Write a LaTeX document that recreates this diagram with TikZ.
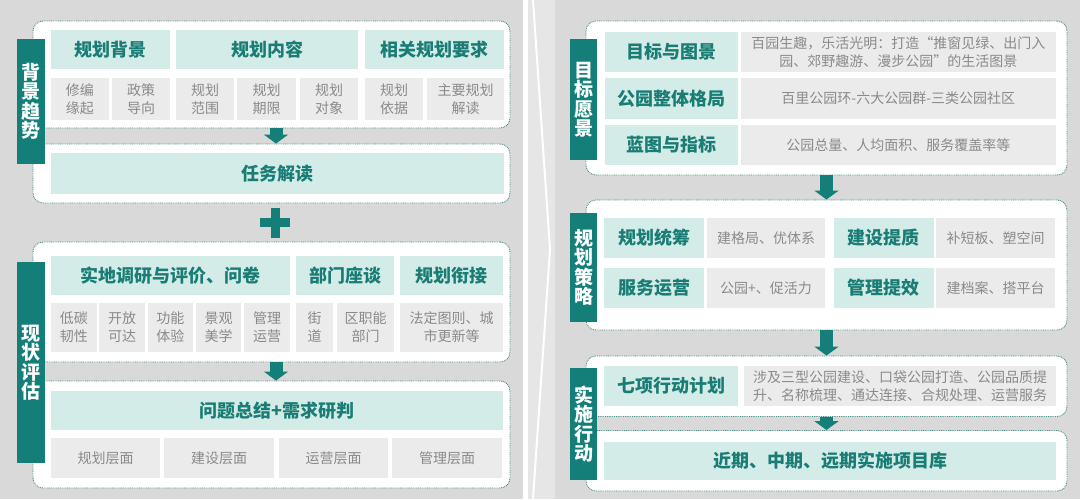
\documentclass[tikz,border=0pt]{standalone}
\usepackage{fontspec}
\setmainfont{Noto Sans CJK SC}
\usetikzlibrary{arrows.meta,calc}

\definecolor{bggray}{HTML}{D9D9D9}
\definecolor{divgray}{HTML}{E6E6E6}
\definecolor{teald}{HTML}{137F78}
\definecolor{tealtxt}{HTML}{1A7D75}
\definecolor{teallt}{HTML}{D4ECE8}
\definecolor{boxgray}{HTML}{EBEBEB}
\definecolor{txtgray}{HTML}{8A8A8A}
\definecolor{dotline}{HTML}{4E8C87}

\tikzset{
  panel/.style={draw=dotline, dash pattern=on 0.9pt off 0.9pt, line width=0.9pt,
    fill=white, rounded corners=10pt, inner sep=0pt},
  sidelabel/.style={fill=teald, text=white, font=\bfseries\fontsize{19}{19.5}\selectfont,
    align=center, minimum width=28pt, inner sep=0pt},
  headbox/.style={fill=teallt, text=tealtxt, font=\bfseries\fontsize{18}{20}\selectfont,
    inner sep=0pt},
  subbox/.style={fill=boxgray, text=txtgray, font=\fontsize{14}{18}\selectfont,
    align=center, inner sep=0pt},
  flowarrow/.style={draw=teald, line width=13pt, -{Triangle[width=24pt,length=9pt]}},
}

\begin{document}
\begin{tikzpicture}[x=1pt,y=-1pt]
\useasboundingbox (0,0) rectangle (1080,499);
% background and divider
\fill[bggray] (0,0) rectangle (1080,499);
\fill[divgray] (523,0) rectangle (555,499);
\fill[white] (523,0) rectangle (528,499);
\draw[white, line width=2pt] (533,0) -- (550,249.5) -- (533,499);

% ---- left: panels
\node[panel, minimum width=477, minimum height=107] (bgA) at (271.5,74.5) {};
\node[panel, minimum width=477, minimum height=59] (bgB) at (271.5,173.5) {};
\node[panel, minimum width=477, minimum height=120] (evA) at (271.5,302) {};
\node[panel, minimum width=477, minimum height=107] (evB) at (271.5,434.5) {};
\node[sidelabel, minimum height=125] (bgL) at (31,101.5) {背\\景\\趋\\势};
\node[sidelabel, minimum height=201] (evL) at (31,362.5) {现\\状\\评\\估};

% background / trend
\node[headbox, minimum width=119, minimum height=39] (bgH1) at (110.5,49.5) {规划背景};
\node[headbox, minimum width=182, minimum height=39] (bgH2) at (267,49.5) {规划内容};
\node[headbox, minimum width=139, minimum height=39] (bgH3) at (434.5,49.5) {相关规划要求};
\node[subbox, minimum width=57.5, minimum height=42.5] (bgS1) at (79.75,98.75) {修编\\缘起};
\node[subbox, minimum width=58, minimum height=42.5] (bgS2) at (141,98.75) {政策\\导向};
\node[subbox, minimum width=58, minimum height=42.5] (bgS3) at (205,98.75) {规划\\范围};
\node[subbox, minimum width=59, minimum height=42.5] (bgS4) at (266.5,98.75) {规划\\期限};
\node[subbox, minimum width=58, minimum height=42.5] (bgS5) at (329,98.75) {规划\\对象};
\node[subbox, minimum width=58, minimum height=42.5] (bgS6) at (394,98.75) {规划\\依据};
\node[subbox, minimum width=77, minimum height=42.5] (bgS7) at (465.5,98.75) {主要规划\\解读};
\node[headbox, minimum width=453, minimum height=41] (task) at (277.5,173.5) {任务解读};

% current status
\node[headbox, minimum width=239, minimum height=39] (evH1) at (170.5,275.5) {实地调研与评价、问卷};
\node[headbox, minimum width=98, minimum height=39] (evH2) at (345,275.5) {部门座谈};
\node[headbox, minimum width=103, minimum height=39] (evH3) at (451.5,275.5) {规划衔接};
\node[subbox, minimum width=45.5, minimum height=49] (evS1) at (73.75,327.5) {低碳\\韧性};
\node[subbox, minimum width=46, minimum height=49] (evS2) at (122,327.5) {开放\\可达};
\node[subbox, minimum width=45.5, minimum height=49] (evS3) at (170.25,327.5) {功能\\体验};
\node[subbox, minimum width=45, minimum height=49] (evS4) at (218.5,327.5) {景观\\美学};
\node[subbox, minimum width=46, minimum height=49] (evS5) at (267,327.5) {管理\\运营};
\node[subbox, minimum width=37, minimum height=49] (evS6) at (314.5,327.5) {街\\道};
\node[subbox, minimum width=57, minimum height=49] (evS7) at (365.5,327.5) {区职能\\部门};
\node[subbox, minimum width=103, minimum height=49] (evS8) at (451.5,327.5) {法定图则、城\\市更新等};
\node[headbox, minimum width=452, minimum height=39] (issue) at (277,410.5) {问题总结+需求研判};
\node[subbox, minimum width=109, minimum height=40] (isS1) at (105.5,458) {规划层面};
\node[subbox, minimum width=110, minimum height=40] (isS2) at (219,458) {建设层面};
\node[subbox, minimum width=109, minimum height=40] (isS3) at (333.5,458) {运营层面};
\node[subbox, minimum width=110, minimum height=40] (isS4) at (447,458) {管理层面};

% ---- right: panels
\node[panel, minimum width=481, minimum height=154] (goA) at (826.5,98) {};
\node[panel, minimum width=481, minimum height=130] (stA) at (826.5,265) {};
\node[panel, minimum width=481, minimum height=60.5] (acA) at (826.5,386.25) {};
\node[panel, minimum width=481, minimum height=60.5] (acB) at (826.5,460.75) {};
\node[sidelabel, minimum width=27, minimum height=121] (goL) at (583.5,99.5) {目\\标\\愿\\景};
\node[sidelabel, minimum width=27, minimum height=109] (stL) at (583.5,267.5) {规\\划\\策\\略};
\node[sidelabel, minimum width=27, minimum height=112] (acL) at (583.5,424) {实\\施\\行\\动};

% vision
\node[headbox, minimum width=133, minimum height=40.5] (goH1) at (671.5,51.75) {目标与图景};
\node[headbox, minimum width=133, minimum height=40.5] (goH2) at (671.5,98.3) {公园整体格局};
\node[headbox, minimum width=133, minimum height=40.5] (goH3) at (671.5,144.75) {蓝图与指标};
\node[subbox, minimum width=315.5, minimum height=40.5] (goD1) at (898.25,51.75)
  {百园生趣，乐活光明：打造“推窗见绿、出门入\\园、郊野趣游、漫步公园”的生活图景};
\node[subbox, minimum width=315.5, minimum height=40.5] (goD2) at (898.25,98.3) {百里公园环-六大公园群-三类公园社区};
\node[subbox, minimum width=315.5, minimum height=40.5] (goD3) at (898.25,144.75) {公园总量、人均面积、服务覆盖率等};

% strategy
\node[headbox, minimum width=100, minimum height=40] (stH1) at (654,238) {规划统筹};
\node[subbox, minimum width=118, minimum height=40] (stD1) at (766,238) {建格局、优体系};
\node[headbox, minimum width=100, minimum height=40] (stH2) at (883.5,238) {建设提质};
\node[subbox, minimum width=119, minimum height=40] (stD2) at (995.5,238) {补短板、塑空间};
\node[headbox, minimum width=100, minimum height=40] (stH3) at (654,288) {服务运营};
\node[subbox, minimum width=118, minimum height=40] (stD3) at (766,288) {公园+、促活力};
\node[headbox, minimum width=100, minimum height=40] (stH4) at (883.5,288) {管理提效};
\node[subbox, minimum width=119, minimum height=40] (stD4) at (995.5,288) {建档案、搭平台};

% action
\node[headbox, minimum width=134, minimum height=39.6] (acH1) at (671,385.8) {七项行动计划};
\node[subbox, minimum width=312, minimum height=39.6] (acD1) at (900,385.8)
  {涉及三型公园建设、口袋公园打造、公园品质提\\升、名称梳理、通达连接、合规处理、运营服务};
\node[headbox, minimum width=452, minimum height=38] (proj) at (830,461) {近期、中期、远期实施项目库};

% arrows and plus
\draw[flowarrow] ([xshift=4.5pt]bgA.south) -- ([xshift=4.5pt]bgB.north);
\draw[flowarrow] ([xshift=4.5pt]evA.south) -- ([xshift=4.5pt]evB.north);
\draw[flowarrow] (goA.south) -- (stA.north);
\draw[flowarrow] (stA.south) -- (acA.north);
\draw[flowarrow] (acA.south) -- (acB.north);
\coordinate (plus) at ($(bgB.south)!0.5!(evA.north)+(3.5,0)$);
\fill[teald] ($(plus)+(-15,-4.5)$) rectangle ($(plus)+(15,4.5)$);
\fill[teald] ($(plus)+(-4.5,-15)$) rectangle ($(plus)+(4.5,15)$);
\end{tikzpicture}
\end{document}
